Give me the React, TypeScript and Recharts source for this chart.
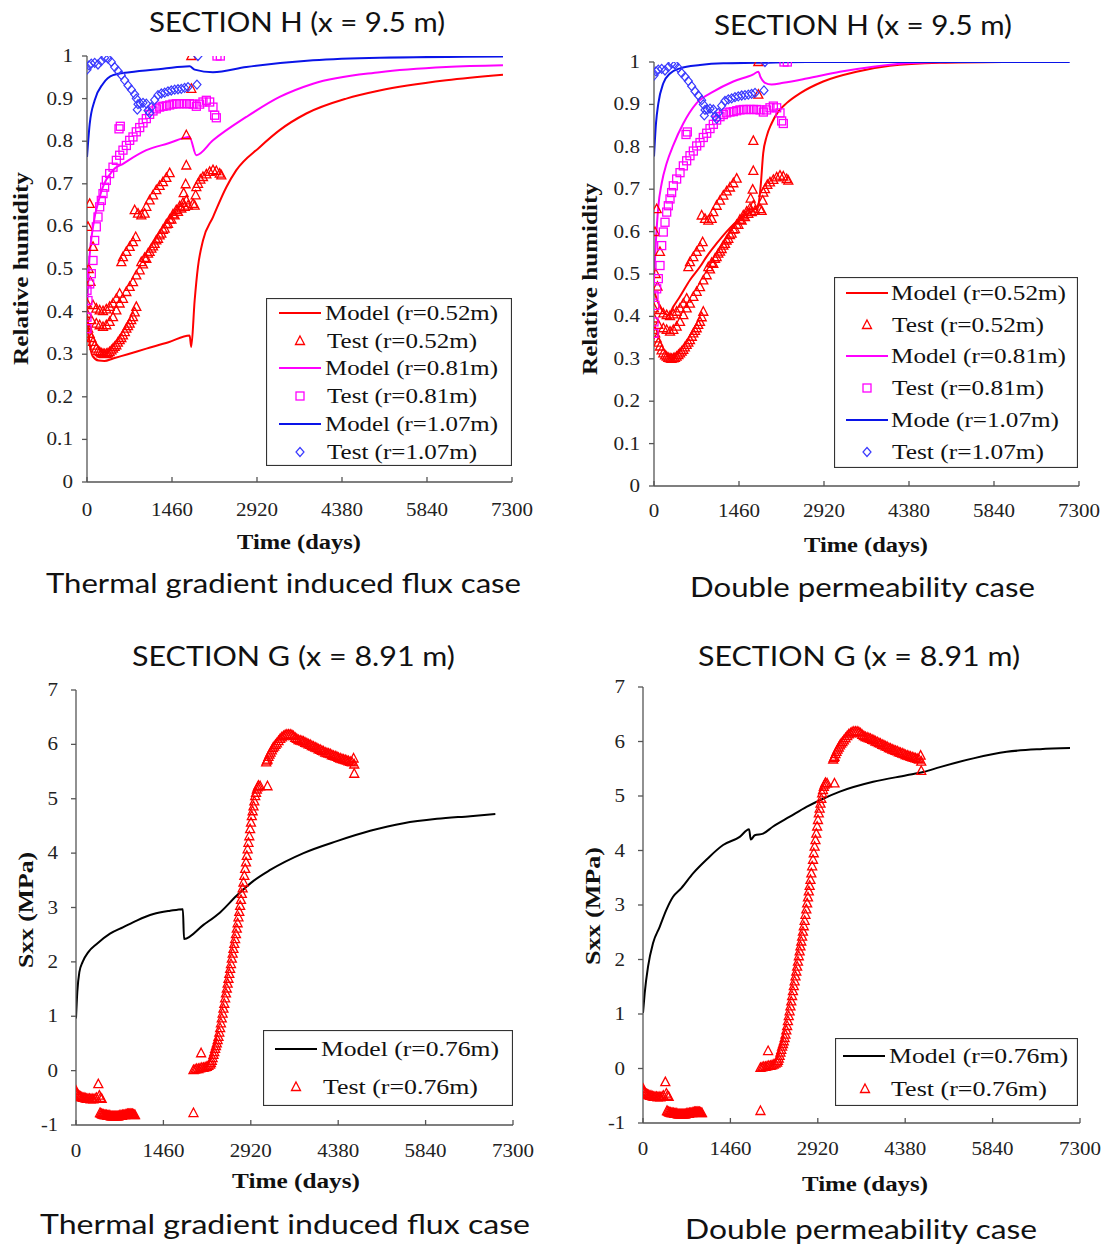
import React from 'react';
import { ComposedChart, Line, Scatter, XAxis, YAxis, Legend } from 'recharts';

type P = [number, number];

const dayTicks = [0, 1460, 2920, 4380, 5840, 7300];
const rhTicks = [0, 0.1, 0.2, 0.3, 0.4, 0.5, 0.6, 0.7, 0.8, 0.9, 1];
const sxxTicks = [-1, 0, 1, 2, 3, 4, 5, 6, 7];

// relative humidity, thermal gradient case (model)
const rhModel052Thermal: P[] = [[0, 0.4], [40, 0.33], [100, 0.295], [200, 0.285], [300, 0.284], [447, 0.29], [700, 0.3], [1019, 0.313], [1400, 0.328], [1763, 0.344], [1790, 0.317], [1849, 0.426], [1906, 0.505], [1992, 0.567], [2164, 0.622], [2393, 0.692], [2565, 0.732], [2966, 0.786], [3309, 0.826], [3767, 0.865], [4454, 0.9], [5026, 0.919], [6171, 0.943], [7145, 0.956]];
const rhModel081Thermal: P[] = [[0, 0.4], [40, 0.52], [103, 0.599], [218, 0.669], [447, 0.732], [618, 0.747], [1019, 0.779], [1400, 0.795], [1760, 0.81], [1878, 0.767], [2164, 0.802], [2737, 0.857], [3309, 0.904], [3882, 0.935], [5026, 0.962], [6171, 0.974], [7145, 0.978]];
const rhModel107Thermal: P[] = [[0, 0.763], [46, 0.84], [132, 0.896], [275, 0.935], [447, 0.955], [733, 0.962], [1305, 0.97], [1763, 0.976], [1849, 0.968], [2164, 0.962], [2737, 0.974], [3882, 0.99], [5026, 0.996], [7145, 0.999]];

// relative humidity, double permeability case (model)
const rhModel052Double: P[] = [[0, 0.46], [103, 0.423], [246, 0.403], [332, 0.423], [446, 0.447], [618, 0.486], [790, 0.517], [904, 0.541], [1076, 0.572], [1247, 0.6], [1476, 0.631], [1705, 0.651], [1791, 0.663], [1831, 0.706], [1876, 0.785], [1934, 0.824], [2019, 0.855], [2134, 0.883], [2277, 0.903], [2506, 0.926], [2906, 0.954], [3478, 0.977], [4050, 0.991], [4908, 0.998], [5996, 1.0]];
const rhModel081Double: P[] = [[0, 0.486], [34, 0.58], [74, 0.659], [132, 0.714], [217, 0.761], [332, 0.804], [503, 0.855], [732, 0.903], [1018, 0.93], [1362, 0.954], [1705, 0.971], [1791, 0.977], [1831, 0.964], [1905, 0.951], [2019, 0.947], [2220, 0.951], [2620, 0.961], [3192, 0.977], [3764, 0.989], [4337, 0.997], [5195, 1.0], [5996, 1.0]];
const rhModel107Double: P[] = [[0, 0.777], [34, 0.855], [74, 0.902], [160, 0.95], [275, 0.973], [446, 0.985], [790, 0.993], [1190, 0.997], [1762, 0.998], [2620, 1.0], [7140, 1.0]];

// relative humidity measurements
const rhTest052: P[] = [
  [17, 0.599], [46, 0.653], [103, 0.552], [30, 0.5], [60, 0.47], [1792, 1.0], [1792, 0.923], [1706, 0.814], [1706, 0.743], [1695, 0.699], [1660, 0.678], [1866, 0.673], [1849, 0.649],
  [0, 0.368], [20, 0.36], [46, 0.348], [75, 0.338], [103, 0.329], [130, 0.32], [160, 0.313], [190, 0.308], [218, 0.305], [245, 0.302], [275, 0.301], [300, 0.3], [332, 0.301], [360, 0.302], [389, 0.305], [420, 0.309], [447, 0.313], [475, 0.317], [504, 0.321], [530, 0.327], [561, 0.333], [590, 0.338], [618, 0.344], [650, 0.352], [676, 0.36], [705, 0.366], [733, 0.372], [760, 0.38], [790, 0.387], [820, 0.398], [847, 0.411],
  [0, 0.395], [74, 0.38], [160, 0.372], [218, 0.368], [275, 0.364], [332, 0.368], [389, 0.376], [447, 0.387], [504, 0.403], [561, 0.419], [618, 0.43], [676, 0.446], [733, 0.458], [790, 0.469], [847, 0.485], [905, 0.497], [962, 0.511], [1019, 0.524], [1076, 0.54], [1134, 0.553], [1191, 0.567], [1248, 0.579], [1305, 0.592], [1363, 0.605], [1420, 0.616], [1477, 0.628], [1534, 0.638], [1592, 0.647], [1649, 0.655], [1706, 0.661],
  [933, 0.516], [990, 0.526], [1048, 0.536], [1105, 0.548], [1162, 0.559], [1220, 0.571], [1277, 0.583], [1334, 0.595], [1391, 0.606], [1450, 0.616], [1506, 0.626], [1563, 0.634], [1620, 0.642], [1680, 0.646], [1735, 0.649], [1821, 0.653],
  [0, 0.419], [103, 0.415], [160, 0.407], [218, 0.403], [275, 0.401], [332, 0.405], [389, 0.411], [447, 0.419], [504, 0.43], [561, 0.442], [590, 0.516], [618, 0.528], [676, 0.54], [733, 0.552], [790, 0.563], [836, 0.575],
  [819, 0.638], [876, 0.63], [933, 0.626], [990, 0.63], [1019, 0.646], [1076, 0.661], [1134, 0.673], [1191, 0.685], [1248, 0.695], [1305, 0.704], [1363, 0.714], [1420, 0.725],
  [1878, 0.692], [1907, 0.7], [1947, 0.71], [1992, 0.716], [2050, 0.722], [2107, 0.728], [2164, 0.732], [2221, 0.73], [2279, 0.724], [2307, 0.72],
];
const rhTest081: P[] = [[0, 0.36], [0, 0.45], [0, 0.387], [17, 0.426], [46, 0.465], [74, 0.489], [103, 0.52], [132, 0.567], [160, 0.599], [189, 0.622], [218, 0.646], [246, 0.661], [275, 0.677], [303, 0.692], [332, 0.708], [389, 0.724], [447, 0.739], [504, 0.755], [561, 0.767], [618, 0.779], [676, 0.79], [733, 0.802], [790, 0.81], [847, 0.822], [905, 0.832], [962, 0.843], [1019, 0.853], [1076, 0.863], [1134, 0.871], [1191, 0.876], [1248, 0.88], [1305, 0.882], [1363, 0.883], [1420, 0.885], [1477, 0.887], [1534, 0.888], [1592, 0.888], [1649, 0.888], [1706, 0.888], [1763, 0.888], [1821, 0.887], [1878, 0.882], [1935, 0.887], [1992, 0.892], [2050, 0.896], [2107, 0.892], [2164, 0.88], [2193, 0.861], [2221, 0.855], [550, 0.829], [572, 0.835], [2233, 1.0], [2290, 1.0]];
const rhTest107: P[] = [[0, 0.968], [34, 0.978], [74, 0.982], [132, 0.984], [189, 0.98], [246, 0.988], [303, 0.996], [361, 0.994], [418, 0.986], [475, 0.974], [533, 0.965], [590, 0.955], [647, 0.943], [704, 0.931], [762, 0.921], [819, 0.91], [847, 0.9], [876, 0.887], [864, 0.874], [916, 0.888], [962, 0.89], [1019, 0.888], [1048, 0.872], [1076, 0.866], [1105, 0.88], [1162, 0.897], [1219, 0.908], [1277, 0.912], [1334, 0.914], [1391, 0.917], [1448, 0.919], [1506, 0.921], [1563, 0.922], [1620, 0.923], [1677, 0.925], [1735, 0.927], [1889, 0.933], [1906, 1.0]];

// horizontal stress Sxx (model)
const sxxModelThermal: P[] = [[0, 0.96], [22, 1.45], [56, 1.81], [111, 2.0], [206, 2.18], [346, 2.33], [568, 2.52], [791, 2.64], [1014, 2.76], [1293, 2.88], [1572, 2.94], [1785, 2.97], [1805, 2.42], [2129, 2.68], [2407, 2.91], [2686, 3.22], [2965, 3.49], [3244, 3.69], [3801, 4.0], [4358, 4.22], [4915, 4.41], [5473, 4.55], [6030, 4.63], [6587, 4.68], [7005, 4.72]];
const sxxModelDouble: P[] = [[0, 1.02], [28, 1.38], [84, 1.87], [167, 2.3], [279, 2.6], [390, 2.91], [502, 3.15], [641, 3.31], [836, 3.58], [1059, 3.83], [1338, 4.1], [1616, 4.25], [1772, 4.39], [1800, 4.2], [1867, 4.28], [2006, 4.31], [2173, 4.44], [2452, 4.62], [2731, 4.8], [3009, 4.95], [3288, 5.08], [3845, 5.26], [4403, 5.38], [4681, 5.44], [4960, 5.53], [5517, 5.69], [6075, 5.81], [6632, 5.86], [7133, 5.88]];

// Sxx measurements
const sxxTest076: P[] = [
  [0, -0.37], [10, -0.42], [22, -0.44], [40, -0.46], [56, -0.47], [75, -0.48], [95, -0.49], [115, -0.5], [134, -0.5], [155, -0.51], [178, -0.52], [200, -0.52], [223, -0.52], [245, -0.53], [268, -0.52], [290, -0.53], [318, -0.52], [340, -0.5], [373, -0.25], [390, -0.46], [410, -0.5], [429, -0.52],
  [401, -0.78], [415, -0.79], [430, -0.8], [444, -0.81], [457, -0.81], [471, -0.82], [485, -0.82], [499, -0.82], [513, -0.82], [527, -0.83], [540, -0.83], [554, -0.83], [568, -0.83], [582, -0.84], [596, -0.84], [610, -0.84], [624, -0.84], [638, -0.84], [652, -0.84], [666, -0.84], [680, -0.84], [694, -0.84], [708, -0.84], [722, -0.83], [736, -0.83], [750, -0.83], [764, -0.83], [778, -0.82], [791, -0.82], [805, -0.82], [819, -0.82], [833, -0.81], [847, -0.81], [861, -0.8], [875, -0.8], [889, -0.8], [903, -0.8], [917, -0.8], [931, -0.8], [945, -0.8], [959, -0.81], [973, -0.82], [986, -0.82],
  [1962, -0.78], [2090, 0.32],
  [1962, 0.01], [1990, 0.02], [2017, 0.03], [2045, 0.03], [2073, 0.04], [2101, 0.05], [2129, 0.05], [2157, 0.06], [2185, 0.07], [2212, 0.09], [2240, 0.11], [2254, 0.14], [2268, 0.18], [2282, 0.23], [2296, 0.29], [2310, 0.34], [2324, 0.4], [2338, 0.45], [2352, 0.5], [2366, 0.56], [2380, 0.62], [2394, 0.7], [2408, 0.78], [2421, 0.87], [2435, 0.96], [2449, 1.05], [2463, 1.14], [2477, 1.23], [2491, 1.33], [2505, 1.42], [2519, 1.51], [2533, 1.6], [2547, 1.69], [2561, 1.78], [2575, 1.87], [2589, 1.96], [2603, 2.06], [2617, 2.15], [2630, 2.24], [2644, 2.33], [2658, 2.42], [2672, 2.51], [2686, 2.61], [2700, 2.71], [2714, 2.82], [2728, 2.92], [2742, 3.03], [2756, 3.14], [2770, 3.25], [2784, 3.35], [2798, 3.46], [2812, 3.58], [2826, 3.71], [2840, 3.83], [2853, 3.95], [2867, 4.07], [2881, 4.19], [2895, 4.31], [2909, 4.44], [2923, 4.56], [2937, 4.68], [2951, 4.77], [2965, 4.86], [2979, 4.95], [2993, 5.05], [3007, 5.11], [3021, 5.17], [3035, 5.21], [3048, 5.24], [3076, 5.23], [3199, 5.23],
  [3177, 5.67], [3188, 5.7], [3199, 5.72], [3215, 5.77], [3232, 5.81], [3250, 5.85], [3271, 5.89], [3290, 5.93], [3310, 5.96], [3332, 5.99], [3355, 6.02], [3383, 6.06], [3411, 6.1], [3438, 6.13], [3466, 6.15], [3494, 6.17], [3522, 6.18], [3550, 6.18], [3578, 6.18], [3606, 6.17], [3634, 6.15], [3662, 6.12], [3689, 6.1], [3717, 6.08], [3745, 6.07], [3773, 6.06], [3801, 6.05], [3828, 6.03], [3856, 6.02], [3884, 6.0], [3912, 5.99], [3940, 5.97], [3968, 5.96], [3996, 5.94], [4024, 5.93], [4052, 5.91], [4079, 5.9], [4107, 5.88], [4135, 5.87], [4163, 5.85], [4191, 5.84], [4219, 5.83], [4247, 5.82], [4275, 5.8], [4302, 5.79], [4330, 5.78], [4358, 5.77], [4386, 5.75], [4414, 5.74], [4442, 5.73], [4470, 5.72], [4498, 5.71], [4525, 5.7], [4553, 5.69], [4581, 5.68], [4610, 5.67], [4637, 5.74], [4648, 5.63], [4648, 5.46],
];

const pts = (a: P[]) => a.map(([day, v]) => ({ day, v }));

const RED = '#ff0000';
const MAG = '#ff00ff';
const BLUE = '#0a14e8';
const DIA = '#3a3aff';
const SERIF = '"Liberation Serif", "Times New Roman", serif';
const SANS = 'Lato, "Open Sans", sans-serif';

function Marker({ kind, cx, cy }: any) {
  if (cx == null || cy == null) return null;
  if (kind === 'tri') return <polygon points={`${cx},${cy - 5} ${cx + 4.5},${cy + 3.5} ${cx - 4.5},${cy + 3.5}`} fill="none" stroke={RED} strokeWidth={1.3} />;
  if (kind === 'sq') return <rect x={cx - 4} y={cy - 4} width={8} height={8} fill="none" stroke={MAG} strokeWidth={1.3} />;
  return <polygon points={`${cx},${cy - 4.5} ${cx + 4},${cy} ${cx},${cy + 4.5} ${cx - 4},${cy}`} fill="none" stroke={DIA} strokeWidth={1.2} />;
}

const tw = (s: string) => s.split('').reduce((a, c) => a + (c === '.' ? 5.5 : c === '-' ? 6.5 : 10.5), 0);

function XTick(props: any) {
  const { x, y, payload } = props;
  const s = String(payload.value);
  return (
    <text x={x} y={y} dy={13} textAnchor="middle" fontSize={18} fontFamily={SERIF} fill="#222" textLength={tw(s)} lengthAdjust="spacingAndGlyphs">{s}</text>
  );
}

const makeYTick = (fmt: (v: number) => string) => (props: any) => {
  const { x, y, payload } = props;
  const s = fmt(payload.value);
  return (
    <text x={x} y={y} dy={6} textAnchor="end" fontSize={18} fontFamily={SERIF} fill="#222" textLength={tw(s)} lengthAdjust="spacingAndGlyphs">{s}</text>
  );
};

const rhFmt = (v: number) => (v === 0 ? '0' : v === 1 ? '1' : v.toFixed(1));
const sxxFmt = (v: number) => String(v);

function LegendBox({ spec }: any) {
  return (
    <svg width={spec.w} height={spec.h} style={{ display: 'block' }}>
      <rect x={0.5} y={0.5} width={spec.w - 1} height={spec.h - 1} fill="#fff" stroke="#333" strokeWidth={1.2} />
      {spec.rows.map((r: any, i: number) => (
        <g key={i}>
          {r.kind === 'line'
            ? <line x1={spec.l0} x2={spec.l1} y1={r.y} y2={r.y} stroke={r.color} strokeWidth={2} />
            : <Marker kind={r.kind} cx={spec.mx} cy={r.y} />}
          <text x={r.tx} y={r.y + 7} fontSize={21} fontFamily={SERIF} fill="#111" textLength={r.tw} lengthAdjust="spacingAndGlyphs">{r.label}</text>
        </g>
      ))}
    </svg>
  );
}

function Panel({ box, plot, yDomain, yTicks, yFmt, xTickMargin, yTickMargin, lines, scatters, legend }: any) {
  const yw = 60;
  const xh = 30;
  const margin = {
    top: plot.y0 - box.top,
    left: plot.x0 - box.left - yw,
    right: box.left + box.width - plot.x1,
    bottom: box.top + box.height - plot.y1 - xh,
  };
  return (
    <div style={{ position: 'absolute', left: box.left, top: box.top }}>
      <ComposedChart width={box.width} height={box.height} margin={margin}>
        <XAxis type="number" dataKey="day" domain={[0, 7300]} ticks={dayTicks} interval={0} allowDataOverflow
          height={xh} tickSize={-5} tickMargin={xTickMargin} tick={XTick} stroke="#555" strokeWidth={1.3} />
        <YAxis type="number" dataKey="v" domain={yDomain} ticks={yTicks} interval={0} allowDataOverflow
          width={yw} tickSize={5} tickMargin={yTickMargin} tick={makeYTick(yFmt)} stroke="#555" strokeWidth={1.3} />
        {lines.map((l: any, i: number) => (
          <Line key={'l' + i} data={pts(l.data)} dataKey="v" type="monotone" stroke={l.color} strokeWidth={2}
            dot={false} activeDot={false} isAnimationActive={false} />
        ))}
        {scatters.map((s: any, i: number) => (
          <Scatter key={'s' + i} data={pts(s.data)} isAnimationActive={false}
            shape={(p: any) => <Marker kind={s.kind} cx={p.cx} cy={p.cy} />} />
        ))}
        <Legend layout="vertical" align="center" verticalAlign="middle"
          wrapperStyle={{ left: legend.left - box.left, top: legend.top - box.top, width: legend.w, height: legend.h }}
          content={() => <LegendBox spec={legend} />} />
      </ComposedChart>
    </div>
  );
}

const rhRows = (ys: number[], mx: number[], mw: number[], blueLabel: string) => [
  { kind: 'line', color: RED, label: 'Model (r=0.52m)', y: ys[0], tx: mx[0], tw: mw[0] },
  { kind: 'tri', label: 'Test (r=0.52m)', y: ys[1], tx: mx[1], tw: mw[1] },
  { kind: 'line', color: MAG, label: 'Model (r=0.81m)', y: ys[2], tx: mx[0], tw: mw[0] },
  { kind: 'sq', label: 'Test (r=0.81m)', y: ys[3], tx: mx[1], tw: mw[1] },
  { kind: 'line', color: BLUE, label: blueLabel, y: ys[4], tx: mx[0], tw: mw[2] },
  { kind: 'dia', label: 'Test (r=1.07m)', y: ys[5], tx: mx[1], tw: mw[1] },
];

function Label({ x1, x2, y, s, size, font, bold }: any) {
  return (
    <text x={x1} y={y} fontSize={size} fontFamily={font} fontWeight={bold ? 700 : 400} fill="#111"
      textLength={x2 - x1} lengthAdjust="spacingAndGlyphs">{s}</text>
  );
}

function VLabel({ x, y1, y2, s }: any) {
  return (
    <text transform={`translate(${x},${y2}) rotate(-90)`} fontSize={20} fontFamily={SERIF} fontWeight={700} fill="#111"
      textLength={y2 - y1} lengthAdjust="spacingAndGlyphs">{s}</text>
  );
}

export default function App() {
  return (
    <div style={{ position: 'absolute', left: 0, top: 0, width: 1107, height: 1245, background: '#fff', overflow: 'hidden' }}>
      <Panel
        box={{ left: 0, top: 40, width: 540, height: 490 }}
        plot={{ x0: 87, x1: 512, y0: 56, y1: 482 }}
        yDomain={[0, 1]} yTicks={rhTicks} yFmt={rhFmt} xTickMargin={26} yTickMargin={9}
        lines={[{ data: rhModel052Thermal, color: RED }, { data: rhModel081Thermal, color: MAG }, { data: rhModel107Thermal, color: BLUE }]}
        scatters={[{ data: rhTest052, kind: 'tri' }, { data: rhTest081, kind: 'sq' }, { data: rhTest107, kind: 'dia' }]}
        legend={{ left: 266, top: 298, w: 246, h: 168, l0: 13, l1: 55, mx: 34, rows: rhRows([15, 43, 70, 98, 126, 154], [59, 61], [173, 150, 173], 'Model (r=1.07m)') }}
      />
      <Panel
        box={{ left: 565, top: 40, width: 540, height: 490 }}
        plot={{ x0: 654, x1: 1079, y0: 62, y1: 486 }}
        yDomain={[0, 1]} yTicks={rhTicks} yFmt={rhFmt} xTickMargin={23} yTickMargin={9}
        lines={[{ data: rhModel052Double, color: RED }, { data: rhModel081Double, color: MAG }, { data: rhModel107Double, color: BLUE }]}
        scatters={[{ data: rhTest052, kind: 'tri' }, { data: rhTest081, kind: 'sq' }, { data: rhTest107, kind: 'dia' }]}
        legend={{ left: 834, top: 277, w: 244, h: 191, l0: 12, l1: 54, mx: 33, rows: rhRows([16, 48, 79, 111, 143, 175], [57, 58], [175, 152, 168], 'Mode (r=1.07m)') }}
      />
      <Panel
        box={{ left: 0, top: 670, width: 540, height: 500 }}
        plot={{ x0: 76, x1: 513, y0: 690, y1: 1125 }}
        yDomain={[-1, 7]} yTicks={sxxTicks} yFmt={sxxFmt} xTickMargin={24} yTickMargin={13}
        lines={[{ data: sxxModelThermal, color: '#000' }]}
        scatters={[{ data: sxxTest076, kind: 'tri' }]}
        legend={{ left: 263, top: 1030, w: 250, h: 76, l0: 12, l1: 54, mx: 33, rows: [
          { kind: 'line', color: '#000', label: 'Model (r=0.76m)', y: 19, tx: 58, tw: 178 },
          { kind: 'tri', label: 'Test (r=0.76m)', y: 57, tx: 60, tw: 155 },
        ] }}
      />
      <Panel
        box={{ left: 565, top: 670, width: 540, height: 500 }}
        plot={{ x0: 643, x1: 1080, y0: 687, y1: 1123 }}
        yDomain={[-1, 7]} yTicks={sxxTicks} yFmt={sxxFmt} xTickMargin={24} yTickMargin={13}
        lines={[{ data: sxxModelDouble, color: '#000' }]}
        scatters={[{ data: sxxTest076, kind: 'tri' }]}
        legend={{ left: 835, top: 1038, w: 243, h: 68, l0: 8, l1: 50, mx: 30, rows: [
          { kind: 'line', color: '#000', label: 'Model (r=0.76m)', y: 18, tx: 54, tw: 179 },
          { kind: 'tri', label: 'Test (r=0.76m)', y: 51, tx: 56, tw: 156 },
        ] }}
      />
      <svg width={1107} height={1245} style={{ position: 'absolute', left: 0, top: 0, pointerEvents: 'none' }}>
        <Label x1={149} x2={445} y={32} s="SECTION H (x = 9.5 m)" size={26} font={SANS} />
        <Label x1={714} x2={1012} y={35} s="SECTION H (x = 9.5 m)" size={26} font={SANS} />
        <Label x1={46} x2={521} y={593} s="Thermal gradient induced flux case" size={26} font={SANS} />
        <Label x1={690} x2={1035} y={597} s="Double permeability case" size={26} font={SANS} />
        <Label x1={132} x2={455} y={666} s="SECTION G (x = 8.91 m)" size={26} font={SANS} />
        <Label x1={698} x2={1020} y={666} s="SECTION G (x = 8.91 m)" size={26} font={SANS} />
        <Label x1={40} x2={530} y={1234} s="Thermal gradient induced flux case" size={26} font={SANS} />
        <Label x1={685} x2={1037} y={1239} s="Double permeability case" size={26} font={SANS} />
        <Label x1={237} x2={361} y={549} s="Time (days)" size={20} font={SERIF} bold />
        <Label x1={804} x2={928} y={552} s="Time (days)" size={20} font={SERIF} bold />
        <Label x1={232} x2={360} y={1188} s="Time (days)" size={20} font={SERIF} bold />
        <Label x1={802} x2={928} y={1191} s="Time (days)" size={20} font={SERIF} bold />
        <VLabel x={28} y1={172} y2={365} s="Relative humidity" />
        <VLabel x={597} y1={183} y2={375} s="Relative humidity" />
        <VLabel x={33} y1={852} y2={968} s="Sxx (MPa)" />
        <VLabel x={600} y1={847} y2={965} s="Sxx (MPa)" />
      </svg>
    </div>
  );
}
